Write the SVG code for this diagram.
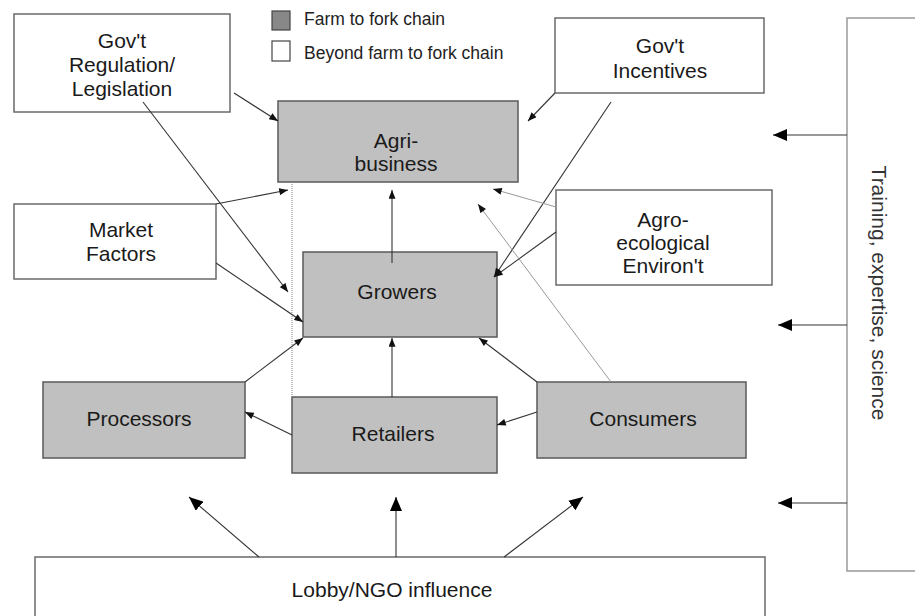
<svg xmlns="http://www.w3.org/2000/svg" width="915" height="616" viewBox="0 0 915 616">
<defs>
<style>
.box{fill:#ffffff;stroke:#6a6a6a;stroke-width:1.5}
.chain{fill:#c0c0c0;stroke:#5a5a5a;stroke-width:1.5}
.t{font-family:"Liberation Sans",Arial,sans-serif;font-size:21px;fill:#1a1a1a;text-anchor:middle}
.lg{font-family:"Liberation Sans",Arial,sans-serif;font-size:17.5px;fill:#222}
.ln{stroke:#333;stroke-width:1.1;fill:none}
.lt{stroke:#999;stroke-width:1;fill:none}
</style>
<marker id="sm" viewBox="0 0 10 8" refX="10" refY="4" markerWidth="10" markerHeight="7" markerUnits="userSpaceOnUse" orient="auto"><path d="M0,0 L10,4 L0,8 Z" fill="#111"/></marker>
<marker id="smg" viewBox="0 0 10 8" refX="10" refY="4" markerWidth="10" markerHeight="7" markerUnits="userSpaceOnUse" orient="auto"><path d="M0,0 L10,4 L0,8 Z" fill="#111"/></marker>
<marker id="lg" viewBox="0 0 14 12" refX="14" refY="6" markerWidth="14" markerHeight="12" markerUnits="userSpaceOnUse" orient="auto"><path d="M0,0 L14,6 L0,12 Z" fill="#000"/></marker>
</defs>
<rect width="915" height="616" fill="#ffffff"/>

<g id="legend">
<rect x="272" y="11" width="18" height="19" fill="#888" stroke="#444" stroke-width="1.2"/>
<text class="lg" x="304" y="25">Farm to fork chain</text>
<rect x="272" y="41" width="18" height="20" fill="#fff" stroke="#444" stroke-width="1.2"/>
<text class="lg" x="304" y="59">Beyond farm to fork chain</text>
</g>

<g id="training">
<rect class="box" x="847" y="18" width="80" height="553" style="stroke:#999"/>
<text class="t" transform="translate(872,293) rotate(90)" x="0" y="0" style="fill:#333">Training, expertise, science</text>
</g>

<g id="lobby">
<rect class="box" x="35" y="557" width="730" height="80"/>
<text class="t" x="392" y="597">Lobby/NGO influence</text>
</g>

<g id="govreg">
<rect class="box" x="14" y="14" width="216" height="98"/>
<text class="t" x="122" y="48">Gov't</text>
<text class="t" x="122" y="72">Regulation/</text>
<text class="t" x="122" y="96">Legislation</text>
</g>

<g id="govinc">
<rect class="box" x="555" y="18" width="209" height="75"/>
<text class="t" x="660" y="53">Gov't</text>
<text class="t" x="660" y="78">Incentives</text>
</g>

<g id="market">
<rect class="box" x="14" y="204" width="202" height="75"/>
<text class="t" x="121" y="237">Market</text>
<text class="t" x="121" y="261">Factors</text>
</g>

<g id="agro">
<rect class="box" x="556" y="190" width="216" height="95"/>
<text class="t" x="663" y="227">Agro-</text>
<text class="t" x="663" y="250">ecological</text>
<text class="t" x="663" y="273">Environ't</text>
</g>

<g id="agribusiness">
<rect class="chain" x="278" y="101" width="240" height="81"/>
<text class="t" x="396" y="148">Agri-</text>
<text class="t" x="396" y="171">business</text>
</g>

<g id="growers">
<rect class="chain" x="303" y="252" width="194" height="85"/>
<text class="t" x="397" y="299">Growers</text>
</g>

<g id="processors">
<rect class="chain" x="43" y="382" width="202" height="76"/>
<text class="t" x="139" y="426">Processors</text>
</g>

<g id="retailers">
<rect class="chain" x="292" y="397" width="205" height="76"/>
<text class="t" x="393" y="441">Retailers</text>
</g>

<g id="consumers">
<rect class="chain" x="537" y="382" width="209" height="76"/>
<text class="t" x="643" y="426">Consumers</text>
</g>

<g id="connectors">
<line x1="292" y1="182" x2="292" y2="397" stroke="#888" stroke-width="1" stroke-dasharray="1,1"/>
<line class="ln" x1="234" y1="93" x2="278" y2="121" marker-end="url(#sm)"/>
<line class="ln" x1="143" y1="102" x2="288" y2="292" marker-end="url(#sm)"/>
<line class="ln" x1="555" y1="93" x2="528" y2="121" marker-end="url(#sm)"/>
<line class="ln" x1="611" y1="102" x2="494" y2="277" marker-end="url(#sm)"/>
<line class="ln" x1="556" y1="232" x2="494" y2="277" marker-end="url(#sm)"/>
<line class="lt" x1="556" y1="207" x2="493" y2="189" marker-end="url(#smg)"/>
<line class="lt" x1="611" y1="382" x2="478" y2="204" marker-end="url(#smg)"/>
<line class="ln" x1="216" y1="204" x2="288" y2="190" marker-end="url(#sm)"/>
<line class="ln" x1="216" y1="263" x2="303" y2="322" marker-end="url(#sm)"/>
<line class="ln" x1="392" y1="263" x2="392" y2="190" marker-end="url(#sm)"/>
<line class="ln" x1="245" y1="382" x2="303" y2="338" marker-end="url(#sm)"/>
<line class="ln" x1="392" y1="397" x2="392" y2="338" marker-end="url(#sm)"/>
<line class="ln" x1="292" y1="435" x2="245" y2="412" marker-end="url(#sm)"/>
<line class="ln" x1="537" y1="382" x2="479" y2="338" marker-end="url(#sm)"/>
<line class="ln" x1="537" y1="412" x2="497" y2="425" marker-end="url(#sm)"/>
<line class="ln" x1="847" y1="135" x2="773" y2="135" marker-end="url(#lg)"/>
<line class="ln" x1="847" y1="325" x2="778" y2="325" marker-end="url(#lg)"/>
<line class="ln" x1="847" y1="503" x2="778" y2="503" marker-end="url(#lg)"/>
<line class="ln" x1="259" y1="557" x2="189" y2="497" marker-end="url(#lg)"/>
<line class="ln" x1="396" y1="557" x2="396" y2="497" marker-end="url(#lg)"/>
<line class="ln" x1="504" y1="557" x2="583" y2="497" marker-end="url(#lg)"/>
</g>
</svg>
